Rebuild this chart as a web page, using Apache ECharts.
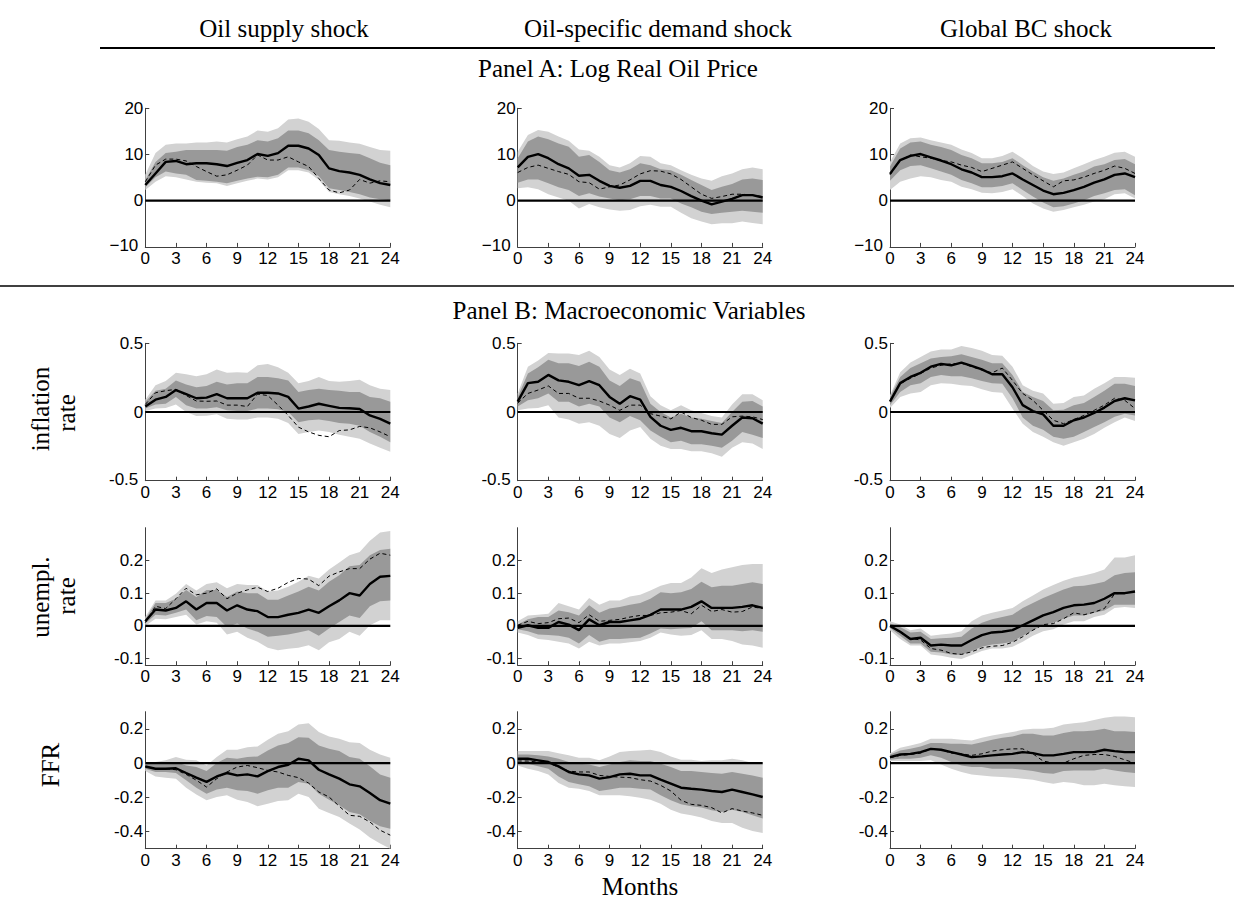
<!DOCTYPE html>
<html><head><meta charset="utf-8">
<script src="https://cdn.jsdelivr.net/npm/echarts@6/dist/echarts.min.js"></script>
<style>html,body{margin:0;padding:0;background:#fff}#c{width:1234px;height:911px}</style>
</head><body><div id="c"></div>
<script>
// ---------------- DATA ----------------
const MONTHS = [0,1,2,3,4,5,6,7,8,9,10,11,12,13,14,15,16,17,18,19,20,21,22,23,24];
const X_TICKS = [0,3,6,9,12,15,18,21,24];
const COLUMN_TITLES = ['Oil supply shock','Oil-specific demand shock','Global BC shock'];
const PANEL_A_TITLE = 'Panel A: Log Real Oil Price';
const PANEL_B_TITLE = 'Panel B: Macroeconomic Variables';
const ROW_LABELS = [null, ['inflation','rate'], ['unempl.','rate'], ['FFR']];
const X_LABEL = 'Months';
const Y_TICKS_OIL = [-10,0,10,20];
const Y_TICKS_INFL = [-0.5,0,0.5];
const Y_TICKS_UNEMP = [-0.1,0,0.1,0.2];
const Y_TICKS_FFR = [-0.4,-0.2,0,0.2];

// Row 1: log real oil price
const P11_solid = [3.4,5.9,8.4,8.6,7.9,8.1,8.1,7.9,7.5,8.2,8.8,10.1,9.7,10.3,11.9,11.9,11.3,9.9,7.0,6.4,6.1,5.6,4.6,3.8,3.4];
const P11_dash  = [4.1,7.7,9.0,9.0,8.6,7.4,6.3,5.3,5.6,6.6,7.7,9.9,8.8,8.8,9.5,8.4,7.4,4.8,2.3,1.7,2.3,4.6,3.8,4.3,4.1];
const P11_inHi  = [4.5,8.4,10.3,10.6,11.0,11.0,11.0,11.0,10.8,11.6,12.1,13.1,12.8,13.5,15.2,15.2,14.6,13.1,11.0,10.6,10.3,10.1,9.2,8.2,7.7];
const P11_inLo  = [2.9,5.1,6.3,5.9,5.6,4.5,4.3,4.1,3.8,4.3,4.8,5.2,5.1,5.6,7.2,7.2,6.6,5.3,2.7,2.3,1.9,1.4,0.7,0.3,0.1];
const P11_outHi = [5.6,10.3,12.1,12.4,12.4,12.6,12.6,12.8,12.6,13.3,13.9,15.2,14.9,15.7,17.6,17.8,17.1,15.5,13.1,13.0,12.6,12.3,11.6,11.0,10.8];
const P11_outLo = [2.3,4.1,5.3,5.1,4.6,4.1,3.9,3.8,3.2,3.8,4.3,4.8,4.6,5.1,6.6,6.6,6.1,4.5,1.9,1.4,1.0,0.5,-0.2,-0.9,-1.4];

const P12_solid = [7.2,9.5,10.1,9.2,7.9,7.0,5.4,5.6,4.3,3.2,2.8,3.2,4.3,4.3,3.4,3.0,2.1,1.0,0.0,-0.8,-0.2,0.4,1.2,1.2,0.7];
const P12_dash  = [6.1,7.2,7.7,7.0,6.3,5.7,4.1,3.9,2.5,3.0,3.4,4.5,5.8,6.5,6.4,5.8,4.6,3.0,1.4,0.5,0.9,1.4,1.4,1.2,0.9];
const P12_inHi  = [9.2,12.8,13.9,13.3,12.4,11.7,9.5,9.9,8.4,6.6,6.1,6.8,8.1,7.7,6.8,6.6,5.6,4.5,3.4,2.3,3.0,3.6,4.6,4.8,4.5];
const P12_inLo  = [3.9,4.6,4.6,3.8,2.9,2.3,1.0,1.6,0.9,0.5,0.1,0.3,1.0,1.0,0.5,0.5,-0.6,-1.4,-2.4,-2.9,-2.6,-2.4,-2.2,-2.4,-2.6];
const P12_outHi = [10.6,14.2,15.3,14.9,13.9,13.0,11.1,10.8,9.5,7.7,7.2,8.1,9.7,9.5,8.1,7.7,6.6,5.6,4.8,4.3,5.3,5.9,6.8,7.2,6.8];
const P12_outLo = [2.7,2.9,2.5,1.4,0.7,0.0,-1.7,-0.7,-1.4,-1.9,-2.2,-2.0,-1.2,-0.9,-1.3,-1.3,-2.6,-3.8,-4.5,-5.1,-4.9,-4.9,-4.5,-4.8,-5.1];

const P13_solid = [5.8,8.8,9.7,10.1,9.4,8.7,7.9,6.8,6.1,5.1,5.1,5.3,5.9,4.6,3.4,2.2,1.4,1.7,2.3,3.0,3.9,4.6,5.6,5.9,5.1];
const P13_dash  = [5.6,8.7,9.9,9.5,9.2,8.7,8.4,7.7,7.2,6.3,7.0,7.7,8.4,7.0,5.6,4.3,3.0,4.3,4.5,5.1,5.9,6.6,7.5,7.0,5.9];
const P13_inHi  = [7.4,11.3,12.6,12.8,12.1,11.6,11.0,9.9,9.2,8.1,8.1,8.4,9.2,7.7,6.3,5.1,4.3,4.8,5.6,6.3,7.4,7.9,8.8,9.0,7.9];
const P13_inLo  = [4.3,6.6,7.5,7.7,7.0,6.3,5.6,4.5,3.8,2.9,2.9,3.2,3.8,2.3,0.9,-0.4,-1.4,-1.2,-0.6,0.1,1.0,1.6,2.3,2.5,1.2];
const P13_outHi = [8.4,12.4,13.5,13.7,13.1,12.6,12.1,11.1,10.3,9.2,9.2,9.7,10.6,9.2,7.5,6.3,5.8,6.1,7.0,7.9,8.8,9.5,10.4,10.6,9.5];
const P13_outLo = [2.3,4.1,4.8,5.3,5.1,4.5,4.1,3.0,2.5,1.7,1.6,1.9,2.5,1.0,-0.6,-1.7,-2.4,-2.0,-1.4,-0.9,-0.2,0.3,1.4,1.6,0.5];

// Row 2: inflation rate
const P21_solid = [0.04,0.09,0.11,0.16,0.13,0.10,0.105,0.13,0.10,0.10,0.10,0.14,0.14,0.135,0.11,0.025,0.04,0.06,0.045,0.03,0.027,0.022,-0.025,-0.05,-0.085];
const P21_dash  = [0.055,0.14,0.155,0.165,0.12,0.08,0.078,0.08,0.05,0.05,0.04,0.13,0.12,0.05,-0.025,-0.11,-0.145,-0.17,-0.18,-0.135,-0.13,-0.105,-0.115,-0.145,-0.18];
const P21_inHi  = [0.075,0.155,0.17,0.23,0.2,0.18,0.19,0.22,0.2,0.21,0.21,0.255,0.255,0.245,0.23,0.145,0.16,0.17,0.16,0.155,0.145,0.145,0.11,0.1,0.075];
const P21_inLo  = [0.025,0.055,0.06,0.11,0.05,0.025,0.025,0.035,0.012,0.007,0.007,0.025,0.025,0.02,0.0,-0.075,-0.06,-0.055,-0.065,-0.08,-0.085,-0.1,-0.145,-0.18,-0.22];
const P21_outHi = [0.09,0.195,0.225,0.285,0.275,0.26,0.275,0.31,0.285,0.29,0.285,0.34,0.35,0.325,0.285,0.21,0.225,0.255,0.225,0.22,0.225,0.235,0.195,0.17,0.16];
const P21_outLo = [0.007,0.025,0.03,0.055,0.0,-0.03,-0.027,-0.017,-0.05,-0.055,-0.055,-0.04,-0.04,-0.05,-0.08,-0.16,-0.145,-0.135,-0.145,-0.165,-0.18,-0.195,-0.23,-0.26,-0.29];

const P22_solid = [0.075,0.21,0.22,0.27,0.23,0.22,0.195,0.225,0.195,0.11,0.06,0.115,0.09,-0.035,-0.1,-0.13,-0.115,-0.14,-0.14,-0.155,-0.165,-0.1,-0.04,-0.045,-0.085];
const P22_dash  = [0.065,0.135,0.16,0.19,0.135,0.135,0.1,0.1,0.08,0.05,0.012,0.05,0.05,-0.012,-0.03,-0.05,0.0,-0.04,-0.06,-0.09,-0.09,-0.035,-0.03,-0.035,-0.055];
const P22_inHi  = [0.11,0.28,0.325,0.38,0.355,0.355,0.335,0.365,0.33,0.23,0.19,0.245,0.22,0.06,0.0,-0.04,-0.012,-0.04,-0.05,-0.065,-0.08,0.0,0.075,0.08,0.04];
const P22_inLo  = [0.04,0.085,0.1,0.135,0.075,0.075,0.04,0.06,0.04,-0.04,-0.075,-0.03,-0.06,-0.135,-0.18,-0.22,-0.21,-0.235,-0.235,-0.245,-0.26,-0.21,-0.145,-0.165,-0.19];
const P22_outHi = [0.135,0.33,0.375,0.43,0.425,0.425,0.415,0.445,0.4,0.31,0.27,0.315,0.28,0.115,0.05,0.012,0.05,0.012,-0.007,-0.03,-0.04,0.055,0.13,0.13,0.085];
const P22_outLo = [0.012,0.025,0.03,0.05,-0.04,-0.055,-0.085,-0.075,-0.1,-0.16,-0.19,-0.135,-0.11,-0.195,-0.245,-0.27,-0.27,-0.285,-0.285,-0.3,-0.325,-0.26,-0.22,-0.23,-0.27];

const P23_solid = [0.075,0.21,0.255,0.285,0.33,0.35,0.34,0.36,0.335,0.31,0.275,0.275,0.18,0.05,0.007,-0.017,-0.1,-0.1,-0.06,-0.04,-0.007,0.032,0.08,0.1,0.085];
const P23_dash  = [0.085,0.205,0.245,0.28,0.32,0.34,0.35,0.355,0.33,0.305,0.285,0.32,0.23,0.135,0.085,0.012,-0.06,-0.085,-0.055,-0.025,0.012,0.05,0.1,0.085,0.025];
const P23_inHi  = [0.11,0.255,0.32,0.355,0.39,0.4,0.405,0.42,0.4,0.38,0.355,0.355,0.27,0.145,0.11,0.08,0.012,0.017,0.05,0.065,0.11,0.155,0.205,0.205,0.19];
const P23_inLo  = [0.05,0.145,0.195,0.21,0.255,0.27,0.26,0.26,0.245,0.225,0.21,0.205,0.1,-0.04,-0.1,-0.13,-0.18,-0.195,-0.18,-0.145,-0.11,-0.075,-0.035,-0.012,-0.025];
const P23_outHi = [0.12,0.29,0.36,0.4,0.44,0.455,0.455,0.48,0.465,0.445,0.415,0.41,0.33,0.195,0.155,0.135,0.06,0.065,0.11,0.12,0.17,0.21,0.255,0.255,0.25];
const P23_outLo = [0.03,0.11,0.135,0.145,0.195,0.21,0.205,0.195,0.19,0.165,0.145,0.14,0.025,-0.085,-0.145,-0.18,-0.22,-0.245,-0.22,-0.195,-0.16,-0.115,-0.075,-0.04,-0.065];

// Row 3: unemployment rate
const P31_solid = [0.014,0.05,0.047,0.055,0.075,0.05,0.07,0.07,0.047,0.063,0.05,0.045,0.027,0.027,0.034,0.04,0.05,0.04,0.06,0.078,0.1,0.093,0.128,0.15,0.153];
const P31_dash  = [0.01,0.06,0.053,0.083,0.115,0.095,0.1,0.113,0.083,0.1,0.11,0.118,0.105,0.115,0.133,0.145,0.143,0.123,0.152,0.165,0.175,0.175,0.204,0.222,0.216];
const P31_inHi  = [0.02,0.07,0.07,0.083,0.11,0.088,0.11,0.11,0.088,0.105,0.1,0.1,0.08,0.08,0.093,0.105,0.12,0.108,0.135,0.155,0.182,0.186,0.216,0.232,0.236];
const P31_inLo  = [0.007,0.034,0.032,0.04,0.05,0.017,0.03,0.027,-0.003,0.007,-0.008,-0.018,-0.033,-0.03,-0.026,-0.02,-0.013,-0.03,-0.008,0.012,0.032,0.024,0.06,0.075,0.078];
const P31_outHi = [0.027,0.078,0.078,0.098,0.128,0.108,0.128,0.133,0.115,0.128,0.125,0.125,0.105,0.108,0.12,0.135,0.153,0.145,0.172,0.194,0.216,0.226,0.26,0.285,0.29];
const P31_outLo = [0.0,0.022,0.02,0.027,0.034,0.004,0.014,0.01,-0.026,-0.018,-0.036,-0.048,-0.067,-0.074,-0.07,-0.067,-0.059,-0.074,-0.05,-0.04,-0.018,-0.03,0.002,0.017,0.017];

const P32_solid = [-0.006,0.002,-0.006,-0.006,0.012,0.004,-0.013,0.02,0.002,0.012,0.012,0.017,0.022,0.034,0.05,0.05,0.05,0.058,0.075,0.055,0.055,0.055,0.058,0.063,0.055];
const P32_dash  = [0.002,0.014,0.007,0.01,0.022,0.024,0.01,0.034,0.014,0.017,0.02,0.027,0.032,0.032,0.04,0.042,0.047,0.037,0.063,0.044,0.05,0.042,0.044,0.058,0.053];
const P32_inHi  = [0.004,0.02,0.027,0.027,0.047,0.042,0.032,0.063,0.04,0.053,0.058,0.065,0.07,0.083,0.103,0.1,0.103,0.113,0.135,0.118,0.123,0.123,0.128,0.133,0.128];
const P32_inLo  = [-0.01,-0.016,-0.026,-0.028,-0.03,-0.036,-0.054,-0.028,-0.048,-0.04,-0.04,-0.038,-0.036,-0.023,-0.008,-0.01,-0.008,-0.006,0.014,-0.013,-0.013,-0.013,-0.016,-0.013,-0.018];
const P32_outHi = [0.014,0.032,0.034,0.037,0.07,0.06,0.05,0.085,0.065,0.078,0.078,0.09,0.095,0.108,0.123,0.131,0.131,0.148,0.176,0.162,0.172,0.179,0.186,0.189,0.189];
const P32_outLo = [-0.02,-0.028,-0.04,-0.043,-0.048,-0.054,-0.069,-0.048,-0.06,-0.054,-0.054,-0.05,-0.046,-0.036,-0.02,-0.026,-0.03,-0.028,-0.013,-0.04,-0.04,-0.046,-0.057,-0.06,-0.067];

const P33_solid = [0,-0.018,-0.04,-0.036,-0.06,-0.057,-0.06,-0.06,-0.043,-0.028,-0.02,-0.018,-0.013,0.002,0.017,0.032,0.042,0.055,0.063,0.065,0.07,0.083,0.1,0.1,0.105];
const P33_dash  = [0,-0.02,-0.038,-0.043,-0.069,-0.074,-0.084,-0.087,-0.079,-0.067,-0.062,-0.06,-0.05,-0.033,-0.013,0.004,0.007,0.022,0.04,0.034,0.042,0.053,0.098,0.1,0.105];
const P33_inHi  = [0.007,-0.003,-0.02,-0.018,-0.04,-0.038,-0.036,-0.033,-0.008,0.01,0.02,0.027,0.034,0.055,0.07,0.085,0.098,0.111,0.121,0.123,0.128,0.135,0.155,0.162,0.164];
const P33_inLo  = [-0.006,-0.03,-0.054,-0.054,-0.079,-0.081,-0.087,-0.089,-0.077,-0.064,-0.057,-0.054,-0.048,-0.03,-0.013,0.002,0.01,0.022,0.032,0.032,0.04,0.047,0.065,0.065,0.065];
const P33_outHi = [0.014,0.004,-0.013,-0.008,-0.03,-0.026,-0.023,-0.016,0.014,0.032,0.04,0.047,0.055,0.075,0.093,0.111,0.125,0.138,0.148,0.154,0.162,0.172,0.209,0.209,0.216];
const P33_outLo = [-0.013,-0.04,-0.06,-0.06,-0.087,-0.091,-0.097,-0.101,-0.089,-0.077,-0.069,-0.069,-0.064,-0.048,-0.03,-0.016,-0.01,0.004,0.014,0.014,0.027,0.034,0.055,0.058,0.055];

// Row 4: federal funds rate
const P41_solid = [-0.02,-0.033,-0.033,-0.03,-0.058,-0.085,-0.11,-0.078,-0.058,-0.072,-0.066,-0.078,-0.047,-0.023,-0.01,0.025,0.016,-0.039,-0.066,-0.091,-0.124,-0.136,-0.175,-0.217,-0.237];
const P41_dash  = [-0.02,-0.033,-0.033,-0.039,-0.066,-0.1,-0.14,-0.091,-0.052,-0.023,-0.014,-0.027,-0.043,-0.052,-0.072,-0.085,-0.117,-0.169,-0.198,-0.252,-0.305,-0.311,-0.344,-0.392,-0.421];
const P41_inHi  = [0,0,0,0.006,-0.014,-0.023,-0.047,0,0.031,0.025,0.035,0.039,0.074,0.103,0.117,0.151,0.148,0.103,0.083,0.07,0.035,0.025,-0.019,-0.066,-0.085];
const P41_inLo  = [-0.033,-0.052,-0.052,-0.058,-0.1,-0.144,-0.179,-0.155,-0.144,-0.159,-0.163,-0.179,-0.159,-0.144,-0.144,-0.111,-0.12,-0.179,-0.214,-0.247,-0.285,-0.299,-0.338,-0.369,-0.383];
const P41_outHi = [0.006,0.006,0.016,0.035,0.019,0.016,-0.014,0.035,0.078,0.078,0.093,0.097,0.136,0.171,0.186,0.225,0.233,0.181,0.155,0.142,0.122,0.117,0.078,0.05,0.031];
const P41_outLo = [-0.047,-0.078,-0.085,-0.091,-0.144,-0.183,-0.217,-0.198,-0.188,-0.214,-0.227,-0.252,-0.237,-0.221,-0.217,-0.179,-0.198,-0.266,-0.291,-0.315,-0.353,-0.388,-0.435,-0.47,-0.5];

const P42_solid = [0.025,0.025,0.016,0.006,-0.019,-0.052,-0.066,-0.072,-0.091,-0.082,-0.066,-0.062,-0.072,-0.072,-0.097,-0.12,-0.144,-0.15,-0.155,-0.163,-0.169,-0.155,-0.169,-0.183,-0.198];
const P42_dash  = [0.012,0.012,0.006,0,-0.023,-0.047,-0.052,-0.052,-0.072,-0.078,-0.082,-0.085,-0.097,-0.105,-0.13,-0.163,-0.217,-0.241,-0.247,-0.26,-0.291,-0.266,-0.28,-0.291,-0.305];
const P42_inHi  = [0.05,0.05,0.045,0.039,0.025,0.006,-0.004,-0.008,-0.023,-0.008,0.006,0.016,0.012,0.012,-0.004,-0.023,-0.047,-0.047,-0.052,-0.058,-0.062,-0.052,-0.062,-0.072,-0.085];
const P42_inLo  = [0.006,-0.004,-0.019,-0.033,-0.078,-0.111,-0.124,-0.136,-0.163,-0.155,-0.144,-0.144,-0.15,-0.155,-0.188,-0.217,-0.241,-0.252,-0.26,-0.276,-0.285,-0.272,-0.285,-0.305,-0.324];
const P42_outHi = [0.07,0.07,0.07,0.07,0.058,0.045,0.031,0.031,0.016,0.039,0.064,0.07,0.074,0.078,0.064,0.039,0.019,0.019,0.012,0.016,0.016,0.025,0.016,0,-0.004];
const P42_outLo = [-0.014,-0.033,-0.047,-0.066,-0.117,-0.144,-0.15,-0.163,-0.188,-0.188,-0.188,-0.194,-0.202,-0.214,-0.237,-0.272,-0.295,-0.305,-0.318,-0.338,-0.35,-0.35,-0.377,-0.396,-0.408];

const P43_solid = [0.035,0.05,0.054,0.064,0.083,0.078,0.064,0.05,0.035,0.039,0.045,0.05,0.054,0.064,0.058,0.045,0.045,0.054,0.064,0.064,0.064,0.078,0.07,0.064,0.064];
const P43_dash  = [0.031,0.045,0.05,0.058,0.083,0.078,0.058,0.054,0.045,0.054,0.07,0.078,0.083,0.083,0.054,0.012,0,0,0.025,0.045,0.05,0.05,0.039,0.019,0];
const P43_inHi  = [0.05,0.074,0.083,0.097,0.117,0.117,0.113,0.113,0.109,0.122,0.136,0.148,0.155,0.171,0.171,0.161,0.161,0.175,0.186,0.186,0.19,0.2,0.186,0.186,0.181];
const P43_inLo  = [0.019,0.025,0.025,0.031,0.045,0.031,0.006,-0.014,-0.023,-0.023,-0.033,-0.033,-0.033,-0.039,-0.047,-0.058,-0.062,-0.047,-0.043,-0.043,-0.043,-0.033,-0.043,-0.052,-0.058];
const P43_outHi = [0.058,0.089,0.103,0.117,0.142,0.142,0.142,0.136,0.132,0.148,0.161,0.171,0.181,0.194,0.2,0.2,0.206,0.225,0.233,0.239,0.252,0.264,0.272,0.272,0.268];
const P43_outLo = [0.012,0.012,0.012,0.012,0.016,-0.008,-0.033,-0.052,-0.066,-0.072,-0.078,-0.082,-0.085,-0.091,-0.097,-0.111,-0.12,-0.111,-0.117,-0.13,-0.13,-0.12,-0.13,-0.136,-0.14];

// ---------------- LAYOUT / STYLE ----------------
const PANELS = [
  [P11_solid,P11_dash,P11_inLo,P11_inHi,P11_outLo,P11_outHi],
  [P12_solid,P12_dash,P12_inLo,P12_inHi,P12_outLo,P12_outHi],
  [P13_solid,P13_dash,P13_inLo,P13_inHi,P13_outLo,P13_outHi],
  [P21_solid,P21_dash,P21_inLo,P21_inHi,P21_outLo,P21_outHi],
  [P22_solid,P22_dash,P22_inLo,P22_inHi,P22_outLo,P22_outHi],
  [P23_solid,P23_dash,P23_inLo,P23_inHi,P23_outLo,P23_outHi],
  [P31_solid,P31_dash,P31_inLo,P31_inHi,P31_outLo,P31_outHi],
  [P32_solid,P32_dash,P32_inLo,P32_inHi,P32_outLo,P32_outHi],
  [P33_solid,P33_dash,P33_inLo,P33_inHi,P33_outLo,P33_outHi],
  [P41_solid,P41_dash,P41_inLo,P41_inHi,P41_outLo,P41_outHi],
  [P42_solid,P42_dash,P42_inLo,P42_inHi,P42_outLo,P42_outHi],
  [P43_solid,P43_dash,P43_inLo,P43_inHi,P43_outLo,P43_outHi]
];
const ROW_AXES = [
  {min:-10, max:20, ticks:Y_TICKS_OIL, minus:'\u2212'},
  {min:-0.5, max:0.5, ticks:Y_TICKS_INFL, minus:'-'},
  {min:-0.12, max:0.3, ticks:Y_TICKS_UNEMP, minus:'-'},
  {min:-0.5, max:0.3, ticks:Y_TICKS_FFR, minus:'-'}
];
const COL_LEFT = [145.3, 517.7, 890];
const COL_W = 245;
const ROW_TOP = [108.3, 343.3, 527.7, 711.7];
const ROW_H = [138.6, 137.4, 137.5, 137];

const LIGHT = '#d2d2d2', DARK = '#999999', AXIS = '#404040';
const TICK_FONT = 'Liberation Sans';
const TICK_SIZE = 17;
const SERIF = '"Liberation Serif", "DejaVu Serif", serif';
const HEAD = 25;

function fmt(v, minus){
  const r = Math.round(v*1000)/1000;
  if (r === 0) return '0';
  return r < 0 ? minus + String(-r) : String(r);
}

const grids = [], xAxes = [], yAxes = [], series = [];
function bandSeries(idx, lo, hi, color){
  return {
    type:'custom', xAxisIndex:idx, yAxisIndex:idx, silent:true, z:1,
    data: MONTHS.map((m,i)=>[m, lo[i], hi[i]]),
    encode:{x:0, y:[1,2]},
    renderItem:function(params, api){
      if (params.dataIndex !== 0) return null;
      const pts = [];
      for (let i=0;i<MONTHS.length;i++) pts.push(api.coord([MONTHS[i], hi[i]]));
      for (let i=MONTHS.length-1;i>=0;i--) pts.push(api.coord([MONTHS[i], lo[i]]));
      return {type:'polygon', shape:{points:pts}, style:{fill:color, stroke:null}};
    }
  };
}

for (let r=0;r<4;r++){
  for (let c=0;c<3;c++){
    const idx = r*3+c;
    const ax = ROW_AXES[r];
    const [solid,dash,inLo,inHi,outLo,outHi] = PANELS[idx];
    grids.push({left:COL_LEFT[c], top:ROW_TOP[r], width:COL_W, height:ROW_H[r], containLabel:false});
    xAxes.push({
      gridIndex:idx, type:'value', min:0, max:24, interval:3,
      axisLine:{show:true, onZero:false, lineStyle:{color:AXIS, width:1}},
      axisTick:{show:true, inside:true, length:4, lineStyle:{color:AXIS, width:1}},
      axisLabel:{show:true, color:'#000', fontFamily:TICK_FONT, fontSize:TICK_SIZE, lineHeight:11, margin:6,
        customValues:X_TICKS, formatter:v=>String(v)},
      splitLine:{show:false}
    });
    yAxes.push({
      gridIndex:idx, type:'value', min:ax.min, max:ax.max,
      axisLine:{show:true, onZero:false, lineStyle:{color:AXIS, width:1}},
      axisTick:{show:true, inside:true, length:4, customValues:ax.ticks, lineStyle:{color:AXIS, width:1}},
      axisLabel:{show:true, color:'#000', fontFamily:TICK_FONT, fontSize:TICK_SIZE, lineHeight:11, margin:2,
        customValues:ax.ticks,
        formatter:v=> (Math.abs(v - ax.min) < 1e-9) ? '{lo|' + fmt(v, ax.minus) + '}' : fmt(v, ax.minus),
        rich:{lo:{fontFamily:TICK_FONT, fontSize:TICK_SIZE, color:'#000', lineHeight:11, padding:[0,5,2,0]}}},
      splitLine:{show:false}
    });
    series.push(bandSeries(idx, outLo, outHi, LIGHT));
    series.push(bandSeries(idx, inLo, inHi, DARK));
    series.push({type:'line', xAxisIndex:idx, yAxisIndex:idx, silent:true, z:3,
      data:[[0,0],[24,0]], symbol:'none', lineStyle:{color:'#000', width:2.2}});
    series.push({type:'line', xAxisIndex:idx, yAxisIndex:idx, silent:true, z:4,
      data:MONTHS.map((m,i)=>[m, dash[i]]), symbol:'none',
      lineStyle:{color:'#000', width:1, type:[4,3]}});
    series.push({type:'line', xAxisIndex:idx, yAxisIndex:idx, silent:true, z:5,
      data:MONTHS.map((m,i)=>[m, solid[i]]), symbol:'none',
      lineStyle:{color:'#000', width:2.4}});
  }
}

function txt(x, y, s, size, rot){
  return {type:'text', x:x, y:y, rotation:rot||0, silent:true,
    style:{text:s, font: size+'px '+SERIF, fill:'#000', align:'center', verticalAlign:'middle'}};
}
const graphics = [
  txt(284, 28, COLUMN_TITLES[0], HEAD),
  txt(658, 28, COLUMN_TITLES[1], HEAD),
  txt(1026, 28, COLUMN_TITLES[2], HEAD),
  {type:'line', silent:true, shape:{x1:100, y1:48, x2:1215, y2:48}, style:{stroke:'#000', lineWidth:2}},
  txt(618, 68, PANEL_A_TITLE, HEAD),
  {type:'line', silent:true, shape:{x1:0, y1:286, x2:1234, y2:286}, style:{stroke:'#000', lineWidth:1.5}},
  txt(629, 310, PANEL_B_TITLE, HEAD),
  txt(40, 409, ROW_LABELS[1][0], HEAD, Math.PI/2),
  txt(66, 413, ROW_LABELS[1][1], HEAD, Math.PI/2),
  txt(40, 597, ROW_LABELS[2][0], HEAD, Math.PI/2),
  txt(66, 596, ROW_LABELS[2][1], HEAD, Math.PI/2),
  txt(50, 765, ROW_LABELS[3][0], HEAD, Math.PI/2),
  txt(640, 886, X_LABEL, HEAD)
];

const chart = echarts.init(document.getElementById('c'), null, {renderer:'svg', width:1234, height:911});
chart.setOption({
  animation:false,
  backgroundColor:'#fff',
  grid:grids, xAxis:xAxes, yAxis:yAxes, series:series,
  graphic:graphics
});
</script>
</body></html>
